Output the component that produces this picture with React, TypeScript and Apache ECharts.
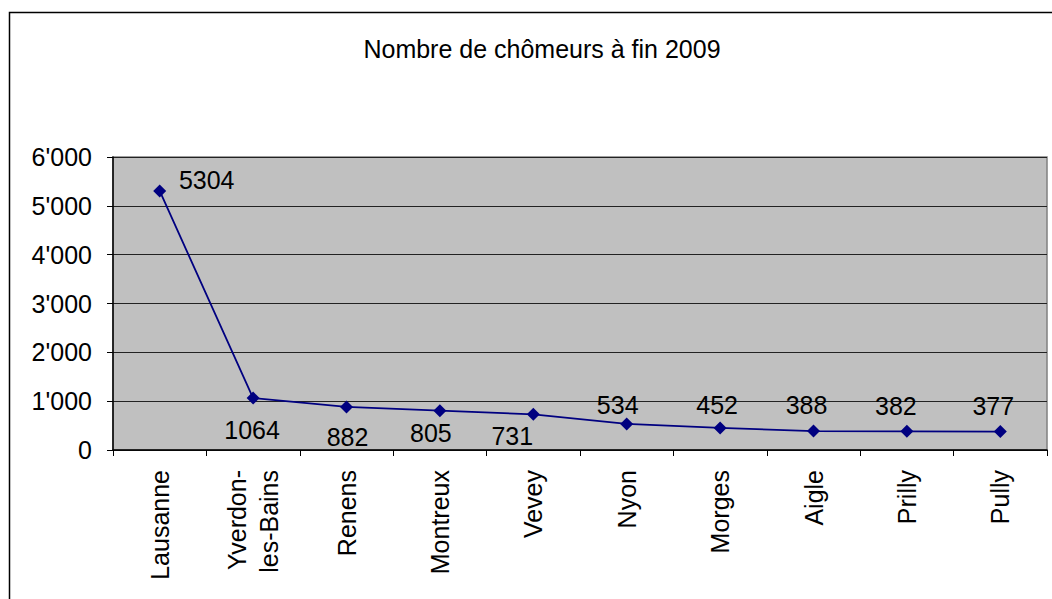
import React, { useEffect, useRef } from "react";
import * as echarts from "echarts";

const categories = ["Lausanne", "Yverdon-\nles-Bains", "Renens", "Montreux", "Vevey", "Nyon", "Morges", "Aigle", "Prilly", "Pully"];
const values = [5304, 1064, 882, 805, 731, 534, 452, 388, 382, 377];
const yTicks = { min: 0, max: 6000, interval: 1000 };
const titleText = "Nombre de chômeurs à fin 2009";
// label offsets (style only) relative to each marker centre
const labelOffsets: [number, number][] = [
  [47, -11], [-1, 32], [1, 30], [-9, 22], [-21, 22],
  [-9, -19], [-3, -23], [-7, -26], [-11, -25], [-7, -26],
];

const FONT = "Liberation Sans, Arial, sans-serif";
const FS = 25;

export default function App() {
  const ref = useRef<HTMLDivElement>(null);
  useEffect(() => {
    if (!ref.current) return;
    const chart = echarts.init(ref.current, null, { renderer: "svg" });
    chart.setOption({
      animation: false,
      backgroundColor: "#ffffff",
      textStyle: { fontFamily: FONT },
      graphic: [
        {
          type: "rect",
          shape: { x: 9.5, y: 12.5, width: 1200, height: 800 },
          style: { fill: "none", stroke: "#000", lineWidth: 1.5 },
          silent: true,
          z: -10,
        },
      ],
      title: {
        text: titleText,
        left: 537,
        textAlign: "center",
        top: 31,
        textStyle: { fontFamily: FONT, fontSize: FS, fontWeight: "normal", color: "#000" },
      },
      grid: {
        left: 113,
        top: 157,
        width: 934,
        height: 293,
        show: true,
        backgroundColor: "#C0C0C0",
        borderColor: "#808080",
        borderWidth: 1.5,
      },
      xAxis: {
        type: "category",
        data: categories,
        boundaryGap: true,
        axisLine: { lineStyle: { color: "#000", width: 1.5 } },
        axisTick: { show: true, length: 6, lineStyle: { color: "#000", width: 1 } },
        axisLabel: {
          rotate: 90,
          margin: 20,
          interval: 0,
          fontSize: FS,
          color: "#000",
          fontFamily: FONT,
          lineHeight: 32,
        },
      },
      yAxis: {
        type: "value",
        min: yTicks.min,
        max: yTicks.max,
        interval: yTicks.interval,
        axisLine: { show: true, lineStyle: { color: "#000", width: 1.5 } },
        axisTick: { show: true, length: 6, lineStyle: { color: "#000", width: 1 } },
        splitLine: { show: true, lineStyle: { color: "#222", width: 1 } },
        axisLabel: {
          margin: 21,
          fontSize: FS,
          color: "#000",
          fontFamily: FONT,
          formatter: (v: number) => (v === 0 ? "0" : `${v / 1000}'000`),
        },
      },
      series: [
        {
          type: "line",
          data: values.map((v, i) => ({
            value: v,
            label: {
              show: true,
              position: "inside",
              offset: labelOffsets[i],
              align: "center",
              verticalAlign: "middle",
            },
          })),
          symbol: "diamond",
          symbolSize: 13,
          lineStyle: { color: "#000080", width: 1.8 },
          itemStyle: { color: "#000080" },
          label: {
            show: true,
            fontSize: FS,
            color: "#000",
            fontFamily: FONT,
          },
        },
      ],
    });
    return () => chart.dispose();
  }, []);
  return <div ref={ref} style={{ position: "fixed", left: 0, top: 0, width: 1052, height: 599 }} />;
}
